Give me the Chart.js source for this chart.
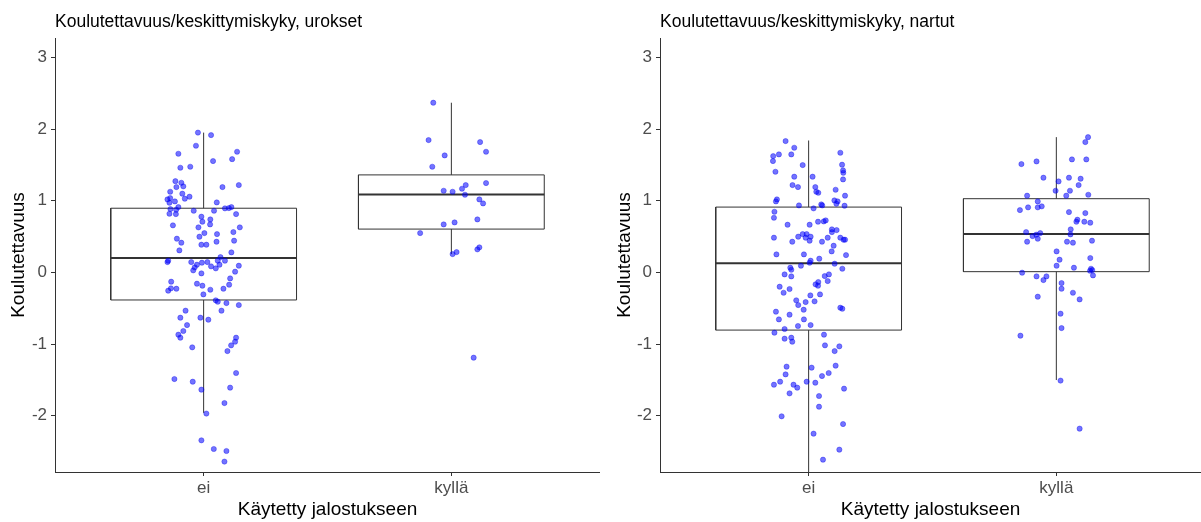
<!DOCTYPE html>
<html lang="fi">
<head>
<meta charset="utf-8">
<title>Koulutettavuus/keskittymiskyky</title>
<script src="https://cdn.jsdelivr.net/npm/chart.js@4.4.1/dist/chart.umd.min.js"></script>
<style>
    html, body { margin: 0; padding: 0; background: #fff; overflow: hidden; }
    .panel { position: absolute; top: 0; height: 522px; }
    .panel canvas { position: absolute; left: 0; top: 0; }
    .panel-title {
        position: absolute; top: 11px; z-index: 1;
        font: 17.5px 'Liberation Sans', Arial, sans-serif; line-height: 20px;
        color: #000; white-space: nowrap;
    }
</style>
</head>
<body>
<div class="panel" style="left:0;width:600px">
    <canvas id="chartUrokset" width="600" height="522"></canvas>
    <div class="panel-title" style="left:55px">Koulutettavuus/keskittymiskyky, urokset</div>
</div>
<div class="panel" style="left:600px;width:601px">
    <canvas id="chartNartut" width="601" height="522"></canvas>
    <div class="panel-title" style="left:60px">Koulutettavuus/keskittymiskyky, nartut</div>
</div>
<script>
/**
 * Koulutettavuus - boxplot + jitter, urokset / nartut
 */

const categories = ['ei', 'kyllä'];
const yTicks = [-2, -1, 0, 1, 2, 3];

// urokset, ei (arvo + vaakasuora jitter)
const uroksetEiY = [
    1.95, 1.915, 1.767, 1.655, 1.683, 1.58, 1.553, 1.46, 1.474, 1.273,
    1.25, 1.19, 1.20, 1.218, 1.19, 1.125, 1.098, 1.018, 1.036, 1.028,
    1.056, 0.99, 0.972, 0.976, 0.911, 0.883, 0.874, 0.86, 0.86, 0.893,
    0.897, 0.911, 0.818, 0.813, 0.813, 0.777, 0.739, 0.707, 0.669, 0.656,
    0.628, 0.628, 0.562, 0.548, 0.534, 0.498, 0.47, 0.414, 0.442, 0.428,
    0.386, 0.386, 0.307, 0.279, 0.213, 0.144, 0.163, 0.144, 0.135, 0.144,
    0.107, 0.163, 0.163, 0.107, 0.084, 0.056, 0.093, 0.07, 0.028, 0.01,
    -0.014, -0.084, -0.13, -0.172, -0.255, -0.223, -0.228, -0.158, -0.186, -0.242,
    -0.228, -0.307, -0.39, -0.409, -0.428, -0.456, -0.534, -0.534, -0.632, -0.632,
    -0.66, -0.735, -0.818, -0.869, -0.911, -0.911, -0.967, -1.018, -1.046, -1.098,
    -1.404, -1.488, -1.525, -1.608, -1.636, -1.823, -1.97, -2.343, -2.464, -2.492,
    -2.64
];
const uroksetEiJitter = [
    -0.023, 0.030, -0.031, -0.102, 0.135, 0.115, 0.038, -0.094, -0.054, -0.114,
    -0.090, -0.110, -0.082, 0.142, 0.076, -0.135, -0.086, -0.146, -0.135, -0.076,
    -0.057, -0.116, -0.138, 0.053, -0.102, -0.134, -0.111, -0.040, 0.042, 0.086,
    0.102, 0.112, -0.138, -0.112, 0.131, -0.009, 0.027, -0.005, 0.026, -0.124,
    -0.021, 0.146, 0.120, 0.003, 0.054, -0.017, -0.108, -0.090, 0.123, 0.052,
    -0.009, 0.011, -0.098, 0.112, 0.068, -0.146, -0.143, -0.050, -0.007, 0.015,
    -0.027, 0.057, 0.086, 0.064, 0.030, 0.049, 0.142, -0.036, -0.042, 0.127,
    -0.009, 0.107, -0.131, 0.103, -0.143, -0.132, -0.110, -0.027, -0.005, 0.027,
    0.080, -0.001, 0.049, 0.057, 0.092, 0.142, -0.073, 0.072, -0.094, -0.013,
    0.019, -0.067, -0.082, -0.102, -0.094, 0.131, 0.127, 0.111, -0.046, 0.096,
    0.131, -0.118, -0.044, 0.107, -0.009, 0.084, 0.011, -0.009, 0.041, 0.092,
    0.084
];

// urokset, kyllä
const uroksetKyllaY = [
    2.367, 1.846, 1.818, 1.683, 1.632, 1.474, 1.246, 1.218, 1.167, 1.139,
    1.125, 1.083, 1.018, 0.962, 0.739, 0.697, 0.669, 0.548, 0.349, 0.321,
    0.283, 0.255, -1.19
];
const uroksetKyllaJitter = [
    -0.073, -0.092, 0.116, 0.140, -0.027, -0.077, 0.140, 0.058, 0.043, -0.031,
    0.005, 0.055, 0.113, 0.128, 0.105, 0.013, -0.031, -0.126, 0.113, 0.105,
    0.021, 0.005, 0.090
];

// nartut, ei
const nartutEiY = [
    1.832, 1.739, 1.622, 1.646, 1.646, 1.553, 1.669, 1.497, 1.502, 1.423,
    1.39, 1.297, 1.404, 1.335, 1.335, 1.218, 1.19, 1.19, 1.125, 1.111,
    1.153, 1.07, 1.018, 0.99, 0.934, 0.948, 0.934, 1.004, 0.99, 0.958,
    0.93, 0.893, 0.846, 0.762, 0.665, 0.665, 0.707, 0.711, 0.725, 0.6,
    0.59, 0.562, 0.534, 0.534, 0.498, 0.484, 0.498, 0.442, 0.484, 0.428,
    0.428, 0.484, 0.484, 0.456, 0.456, 0.372, 0.293, 0.251, 0.251, 0.241,
    0.191, 0.163, 0.135, 0.093, 0.121, 0.065, 0.037, 0.051, -0.028, -0.056,
    -0.051, -0.028, -0.121, -0.135, -0.167, -0.186, -0.2, -0.232, -0.284, -0.321,
    -0.307, -0.39, -0.456, -0.414, -0.404, -0.521, -0.493, -0.507, -0.548, -0.59,
    -0.656, -0.656, -0.748, -0.735, -0.79, -0.841, -0.869, -0.925, -0.911, -0.967,
    -1.018, -1.032, -1.098, -1.315, -1.329, -1.301, -1.423, -1.404, -1.446, -1.525,
    -1.567, -1.567, -1.608, -1.525, -1.539, -1.622, -1.688, -1.725, -1.874, -2.008,
    -2.116, -2.25, -2.473, -2.613
];
const nartutEiJitter = [
    -0.093, -0.058, -0.143, -0.120, -0.070, -0.144, 0.128, -0.024, 0.135, 0.139,
    0.140, 0.139, -0.134, -0.058, 0.016, -0.065, -0.043, 0.027, 0.031, 0.039,
    0.109, 0.147, -0.128, -0.132, -0.039, 0.051, 0.055, 0.104, 0.117, 0.112,
    0.145, 0.020, -0.138, -0.140, -0.085, 0.004, 0.038, 0.061, 0.069, 0.094,
    0.113, 0.094, -0.024, -0.008, -0.042, -0.012, 0.008, 0.004, -0.140, -0.066,
    0.054, 0.077, 0.128, 0.141, 0.147, 0.101, 0.093, -0.130, -0.019, 0.151,
    0.043, 0.008, 0.004, -0.031, 0.105, -0.074, -0.070, 0.136, -0.097, -0.070,
    0.065, 0.082, 0.077, 0.039, 0.028, 0.038, -0.117, -0.077, -0.101, 0.007,
    0.046, -0.050, -0.042, -0.012, 0.024, -0.020, 0.128, 0.136, -0.132, -0.077,
    -0.120, -0.019, -0.043, 0.008, -0.097, -0.138, 0.062, -0.097, -0.070, -0.066,
    0.066, 0.124, 0.105, -0.089, 0.012, 0.109, -0.093, 0.081, 0.054, -0.115,
    -0.140, -0.061, -0.046, -0.008, 0.027, 0.143, -0.077, 0.042, 0.042, -0.109,
    0.139, 0.020, 0.124, 0.058
];

// nartut, kyllä
const nartutKyllaY = [
    1.887, 1.818, 1.511, 1.548, 1.576, 1.576, 1.321, 1.321, 1.307, 1.269,
    1.218, 1.139, 1.139, 1.07, 1.07, 1.083, 0.99, 0.869, 0.907, 0.907,
    0.921, 0.841, 0.827, 0.735, 0.707, 0.707, 0.693, 0.6, 0.53, 0.562,
    0.506, 0.526, 0.548, 0.47, 0.428, 0.428, 0.414, 0.442, 0.293, 0.177,
    0.2, 0.093, 0.065, 0.051, 0.032, 0.023, -0.042, -0.004, -0.056, -0.056,
    -0.107, -0.149, -0.228, -0.284, -0.339, -0.377, -0.576, -0.777, -0.883, -1.51,
    -2.18
];
const nartutKyllaJitter = [
    0.128, 0.117, -0.141, -0.080, 0.063, 0.121, -0.052, 0.051, 0.098, 0.009,
    0.090, -0.003, 0.055, -0.118, 0.040, 0.129, -0.075, -0.147, -0.114, -0.075,
    -0.059, 0.051, 0.117, 0.085, 0.081, 0.113, 0.137, 0.058, 0.057, -0.122,
    -0.096, -0.081, -0.065, -0.075, -0.118, 0.043, 0.067, 0.144, 0.001, 0.013,
    0.137, 0.001, 0.071, 0.140, 0.145, 0.136, 0.148, -0.138, -0.080, -0.040,
    -0.052, 0.021, 0.021, 0.067, -0.075, 0.094, 0.017, 0.021, -0.145, 0.017,
    0.094
];

// laatikoiden tunnusluvut [ei, kyllä]
const uroksetLow = [-1.96, 0.255];
const uroksetQ1 = [-0.385, 0.604];
const uroksetMedian = [0.20, 1.088];
const uroksetQ3 = [0.895, 1.36];
const uroksetHigh = [1.95, 2.367];

const nartutLow = [-2.8, -1.502];
const nartutQ1 = [-0.805, 0.01];
const nartutMedian = [0.126, 0.534];
const nartutQ3 = [0.911, 1.028];
const nartutHigh = [1.84, 1.887];

const BOX_HALF = 0.375;
const LINE_COLOR = '#333333';

Chart.defaults.font.family = "'Liberation Sans', Arial, sans-serif";

function jitterPoints(pos, ys, jitter) {
    return ys.map((y, i) => ({ x: pos + jitter[i], y }));
}

function segment(data, width) {
    return {
        data,
        showLine: true,
        borderColor: LINE_COLOR,
        borderWidth: width,
        borderJoinStyle: 'miter',
        pointRadius: 0,
        fill: false,
        tension: 0,
        order: 2,
    };
}

function boxDatasets(low, q1, med, q3, high) {
    const sets = [];
    q1.forEach((_, i) => {
        const pos = i + 1;
        const l = pos - BOX_HALF;
        const r = pos + BOX_HALF;
        sets.push(segment([
            { x: l, y: q1[i] }, { x: r, y: q1[i] }, { x: r, y: q3[i] },
            { x: l, y: q3[i] }, { x: l, y: q1[i] },
        ], 1));
        sets.push(segment([{ x: l, y: med[i] }, { x: r, y: med[i] }], 2));
        sets.push(segment([{ x: pos, y: q3[i] }, { x: pos, y: high[i] }], 1));
        sets.push(segment([{ x: pos, y: low[i] }, { x: pos, y: q1[i] }], 1));
    });
    return sets;
}

function pointSet(data) {
    return {
        data,
        backgroundColor: 'rgba(0, 0, 255, 0.55)',
        borderColor: 'rgba(0, 0, 235, 0.6)',
        borderWidth: 0.6,
        pointRadius: 2.6,
        order: 1,
    };
}

function renderPanel(canvasId, points, boxes, yWidth, yTitlePad, xMax) {
    const ctx = document.getElementById(canvasId).getContext('2d');
    return new Chart(ctx, {
        type: 'scatter',
        data: { datasets: [...points.map(pointSet), ...boxes] },
        options: {
            responsive: false,
            animation: false,
            events: [],
            layout: { autoPadding: false, padding: { top: 38, right: 0, bottom: 0, left: 0 } },
            plugins: { legend: { display: false }, tooltip: { enabled: false } },
            scales: {
                x: {
                    type: 'linear',
                    min: 0.4,
                    max: xMax,
                    afterBuildTicks: s => { s.ticks = categories.map((_, i) => ({ value: i + 1 })); },
                    afterFit: s => { s.height = 50; },
                    ticks: {
                        callback: v => categories[Math.round(v) - 1],
                        color: '#4d4d4d',
                        font: { size: 17 },
                        padding: 2,
                        maxRotation: 0,
                        autoSkip: false,
                    },
                    grid: { drawOnChartArea: false, tickLength: 4, color: LINE_COLOR },
                    border: { color: LINE_COLOR, width: 1 },
                    title: {
                        display: true,
                        text: 'Käytetty jalostukseen',
                        color: '#000',
                        font: { size: 19 },
                        padding: { top: 0, bottom: 1 },
                    },
                },
                y: {
                    type: 'linear',
                    min: -2.785,
                    max: 3.27,
                    afterBuildTicks: s => { s.ticks = yTicks.map(v => ({ value: v })); },
                    afterFit: s => { s.width = yWidth; },
                    ticks: { color: '#4d4d4d', font: { size: 17 }, padding: 4 },
                    grid: { drawOnChartArea: false, tickLength: 4, color: LINE_COLOR },
                    border: { color: LINE_COLOR, width: 1 },
                    title: {
                        display: true,
                        text: 'Koulutettavuus',
                        color: '#000',
                        font: { size: 19 },
                        padding: { top: yTitlePad, bottom: 0 },
                    },
                },
            },
        },
    });
}

renderPanel('chartUrokset',
    [jitterPoints(1, uroksetEiY, uroksetEiJitter), jitterPoints(2, uroksetKyllaY, uroksetKyllaJitter)],
    boxDatasets(uroksetLow, uroksetQ1, uroksetMedian, uroksetQ3, uroksetHigh),
    55, 7, 2.6);

renderPanel('chartNartut',
    [jitterPoints(1, nartutEiY, nartutEiJitter), jitterPoints(2, nartutKyllaY, nartutKyllaJitter)],
    boxDatasets(nartutLow, nartutQ1, nartutMedian, nartutQ3, nartutHigh),
    60, 13.5, 2.584);
</script>
</body>
</html>
